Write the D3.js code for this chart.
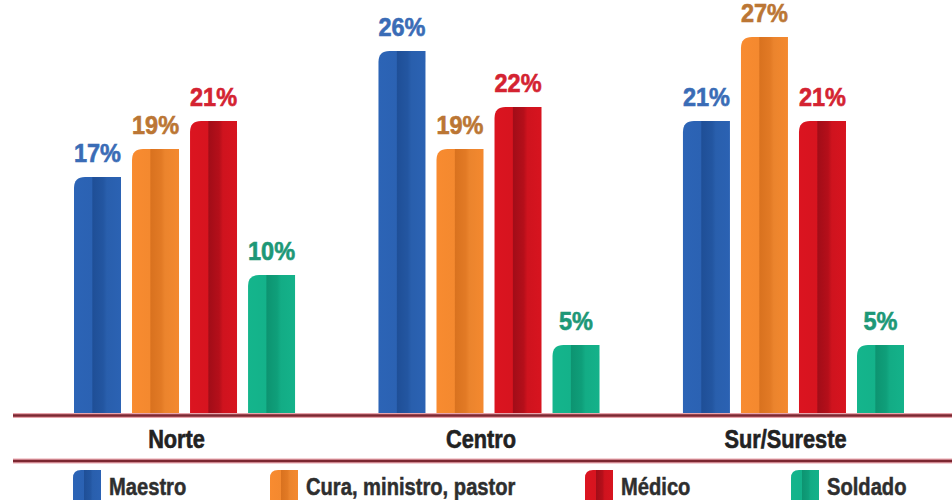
<!DOCTYPE html>
<html>
<head>
<meta charset="utf-8">
<script src="https://cdn.jsdelivr.net/npm/d3@7/dist/d3.min.js"></script>
<style>
  html, body { margin: 0; padding: 0; background: #fff; }
  svg { display: block; }
</style>
</head>
<body>
<svg id="chart" width="952" height="500"></svg>
<script>
// Regions and occupations
const regions = ["Norte", "Centro", "Sur/Sureste"];
const occupations = ["Maestro", "Cura, ministro, pastor", "Médico", "Soldado"];

// Share (%) per occupation, in region order
const maestro = [17, 26, 21];
const cura = [19, 19, 27];
const medico = [21, 22, 21];
const soldado = [10, 5, 5];

// Per-occupation colours: bar face, darker fold, label text
const barColors = ["#2b62b3", "#f4892f", "#d7141f", "#14b28a"];
const foldColors = ["#1f4f97", "#d9721f", "#a20d18", "#0d9471"];
const labelColors = ["#3a6cb6", "#bb7634", "#d42331", "#1d9877"];

// Legend item left edges
const legendX = [73, 270, 585, 791];

const seriesValues = [maestro, cura, medico, soldado];
const rows = regions.map((r, i) => ({
  region: r,
  values: occupations.map((o, j) => ({ key: o, idx: j, value: seriesValues[j][i] }))
}));

const svg = d3.select("#chart");
const baseY = 415;
const font = "'Liberation Sans', Arial, sans-serif";

const x0 = d3.scaleBand().domain(regions).range([74, 904]).paddingInner(0.274).paddingOuter(0);
const x1 = d3.scaleBand().domain(occupations).range([0, x0.bandwidth()]).paddingInner(0.19).paddingOuter(0);
const y = d3.scaleLinear().domain([0, 27]).range([baseY, 37]);

// Horizontal gradients giving each bar a folded look
const defs = svg.append("defs");
occupations.forEach((o, j) => {
  const g = defs.append("linearGradient").attr("id", "grad" + j)
    .attr("x1", "0%").attr("x2", "100%").attr("y1", "0%").attr("y2", "0%");
  const c = d3.color(barColors[j]);
  const cd = d3.color(foldColors[j]);
  const mix = d3.interpolateRgb(cd, c);
  g.append("stop").attr("offset", "0%").attr("stop-color", c.brighter(0.05));
  g.append("stop").attr("offset", "38%").attr("stop-color", c);
  g.append("stop").attr("offset", "40%").attr("stop-color", cd);
  g.append("stop").attr("offset", "62%").attr("stop-color", mix(0.35));
  g.append("stop").attr("offset", "70%").attr("stop-color", c.darker(0.1));
  g.append("stop").attr("offset", "100%").attr("stop-color", c);
});

// Rect with only the top-left corner rounded
function barPath(x, yTop, w, h, r) {
  r = Math.min(r, h, w);
  return `M${x},${yTop + h}V${yTop + r}Q${x},${yTop} ${x + r},${yTop}H${x + w}V${yTop + h}Z`;
}

const groups = svg.append("g").selectAll("g")
  .data(rows).join("g")
  .attr("transform", d => `translate(${x0(d.region)},0)`);

groups.selectAll("path.bar")
  .data(d => d.values).join("path")
  .attr("class", "bar")
  .attr("d", d => barPath(x1(d.key), y(d.value), x1.bandwidth(), baseY - y(d.value), 11))
  .attr("fill", d => `url(#grad${d.idx})`);

groups.selectAll("text.val")
  .data(d => d.values).join("text")
  .attr("class", "val")
  .attr("transform", d => `translate(${x1(d.key) + x1.bandwidth() / 2},${y(d.value) - 15}) scale(0.94,1)`)
  .attr("text-anchor", "middle")
  .attr("font-family", font)
  .attr("font-weight", "bold")
  .attr("font-size", 25)
  .attr("stroke", d => labelColors[d.idx])
  .attr("stroke-width", 0.6)
  .attr("fill", d => labelColors[d.idx])
  .text(d => d.value + "%");

// Rule lines framing the category labels
function rule(yPos) {
  svg.append("line").attr("x1", 13).attr("x2", 952).attr("y1", yPos).attr("y2", yPos)
    .attr("stroke", "#e9a5ad").attr("stroke-width", 5);
  svg.append("line").attr("x1", 13).attr("x2", 952).attr("y1", yPos).attr("y2", yPos)
    .attr("stroke", "#7c2731").attr("stroke-width", 2.5);
}
rule(baseY + 0.5);
rule(461);

// Category labels under each group (condensed)
svg.append("g").selectAll("text")
  .data(regions).join("text")
  .attr("transform", d => `translate(${x0(d) + x0.bandwidth() / 2 - 8},448) scale(0.87,1)`)
  .attr("text-anchor", "middle")
  .attr("font-family", font)
  .attr("font-weight", "bold")
  .attr("font-size", 25)
  .attr("fill", "#222")
  .attr("stroke", "#222")
  .attr("stroke-width", 0.6)
  .text(d => d);

// Legend
const legend = svg.append("g").selectAll("g")
  .data(occupations).join("g")
  .attr("transform", (d, i) => `translate(${legendX[i]},470)`);

legend.append("path")
  .attr("d", barPath(0, 0, 28, 32, 8))
  .attr("fill", (d, i) => `url(#grad${i})`);

legend.append("text")
  .attr("transform", "translate(36,25) scale(0.84,1)")
  .attr("font-family", font)
  .attr("font-weight", "bold")
  .attr("font-size", 24)
  .attr("fill", "#2e2e2e")
  .attr("stroke", "#2e2e2e")
  .attr("stroke-width", 0.5)
  .text(d => d);
</script>
</body>
</html>
